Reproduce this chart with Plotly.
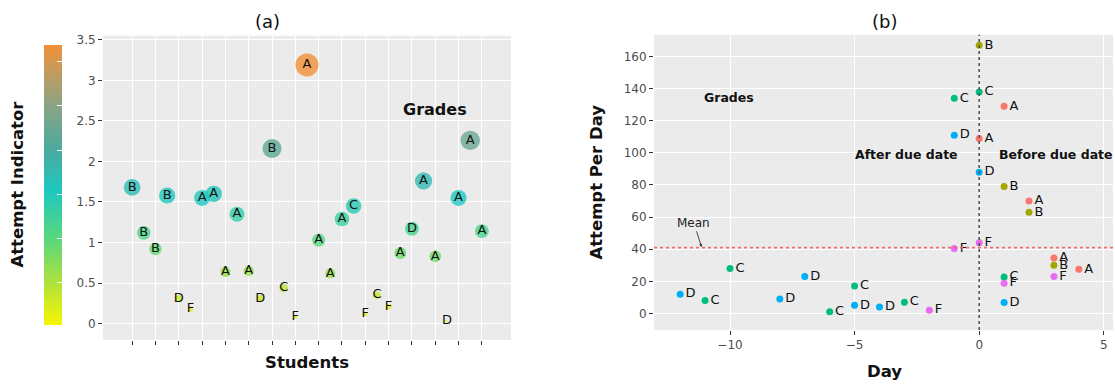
import numpy as np
import plotly.graph_objects as go

W, H = 1115, 385

# ---- Panel (a): attempt indicator per student ----
student_pos = list(range(1, 32))
attempt_indicator = [1.68, 1.12, 0.92, 1.58, 0.31, 0.18, 1.55, 1.60, 0.64, 1.35,
                     0.65, 0.31, 2.16, 0.44, 0.08, 3.19, 1.03, 0.62, 1.29, 1.45,
                     0.12, 0.35, 0.21, 0.87, 1.17, 1.76, 0.83, 0.03, 1.55, 2.26,
                     1.14]
student_grade = ["B", "B", "B", "B", "D", "F", "A", "A", "A", "A",
                 "A", "D", "B", "C", "F", "A", "A", "A", "A", "C",
                 "F", "C", "F", "A", "D", "A", "A", "D", "A", "A",
                 "A"]
student_ticks = list(range(1, 32, 2))
indicator_ticks = [0, 0.5, 1, 1.5, 2, 2.5, 3, 3.5]
colorbar_ticks = [0.5, 1, 1.5, 2, 2.5, 3]

# ---- Panel (b): attempts per day relative to the due date ----
days = [0, 0, -1, 1, -1, 0, 0, 1, 2, 2,
        0, -1, 3, 3, 4, 3, 1, 1, 1, -10,
        -12, -11, -7, -8, -5, -6, -5, -4, -3, -2]
attempts_per_day = [167, 138, 134, 129, 111, 109, 88, 79, 70, 63,
                    44, 40.5, 34.5, 30, 27.5, 23, 22.7, 18.8, 6.8, 28,
                    12, 8, 23, 9, 17, 1, 5, 4, 7, 2]
day_grade = ["B", "C", "C", "A", "D", "A", "D", "B", "A", "B",
             "F", "F", "A", "B", "A", "F", "C", "F", "D", "C",
             "D", "C", "D", "D", "C", "C", "D", "D", "C", "F"]
day_ticks = [-10, -5, 0, 5]
attempt_ticks = [0, 20, 40, 60, 80, 100, 120, 140, 160]
mean_attempts = 41

grade_colors = {"A": "#F8766D", "B": "#A3A500", "C": "#00BF7D",
                "D": "#00B0F6", "F": "#E76BF3"}

indicator_scale = [
    [0.00, "#f6f600"],
    [0.15, "#b0e23c"],
    [0.30, "#5cd87a"],
    [0.48, "#1ec8c0"],
    [0.62, "#4aaaa0"],
    [0.78, "#88a484"],
    [0.90, "#c09c60"],
    [1.00, "#f29036"],
]

FONT = "DejaVu Sans"
TICK_FONT = dict(family=FONT, size=12, color="#4d4d4d")


def px_x(x):
    return x / W


def px_y(y):
    return 1 - y / H


fig = go.Figure()

# Bubble diameter grows with the square root of the indicator (area scale)
bubble_size = (12.9 * np.sqrt(np.array(attempt_indicator))).tolist()

fig.add_trace(go.Scatter(
    x=student_pos, y=attempt_indicator, xaxis="x", yaxis="y",
    mode="markers+text", text=student_grade, textposition="middle center",
    textfont=dict(family=FONT, size=13, color="#111111"),
    marker=dict(
        size=bubble_size, color=attempt_indicator, colorscale=indicator_scale,
        cmin=min(attempt_indicator), cmax=max(attempt_indicator),
        opacity=0.8, line=dict(width=0),
        showscale=True,
        colorbar=dict(
            x=px_x(44), xanchor="left", y=px_y(183), yanchor="middle",
            len=282 / H, lenmode="fraction", thickness=18,
            thicknessmode="pixels", outlinewidth=0, xpad=0, ypad=0,
            ticks="inside", tickcolor="white", ticklen=5, tickwidth=1,
            tickvals=colorbar_ticks, showticklabels=False,
        ),
    ),
    hoverinfo="x+y+text", cliponaxis=False,
))

fig.add_trace(go.Scatter(
    x=days, y=attempts_per_day, xaxis="x2", yaxis="y2",
    mode="markers+text", text=day_grade, textposition="middle right",
    textfont=dict(family=FONT, size=13, color="#111111"),
    marker=dict(size=7, color=[grade_colors[g] for g in day_grade]),
    hoverinfo="x+y+text", cliponaxis=False,
))

axis_common = dict(
    showgrid=True, gridcolor="white", gridwidth=1.1, zeroline=False,
    showline=False, ticks="outside", ticklen=4, tickcolor="#333333",
    tickwidth=1, tickfont=TICK_FONT, fixedrange=True,
)

fig.update_layout(
    width=W, height=H,
    margin=dict(l=0, r=0, t=0, b=0),
    paper_bgcolor="white", plot_bgcolor="#EBEBEB",
    showlegend=False,
    font=dict(family=FONT, color="#111111"),
    xaxis=dict(domain=[px_x(103), px_x(511)], range=[-1.5, 33.5],
               tickvals=student_ticks, showticklabels=False, anchor="y",
               **axis_common),
    yaxis=dict(domain=[px_y(339.5), px_y(33)], range=[-0.2, 3.55],
               tickvals=indicator_ticks, anchor="x", **axis_common),
    xaxis2=dict(domain=[px_x(654), px_x(1113)], range=[-13.05, 5.37],
                tickvals=day_ticks, anchor="y2", **axis_common),
    yaxis2=dict(domain=[px_y(329.5), px_y(32)], range=[-10.3, 173.6],
                tickvals=attempt_ticks, anchor="x2", **axis_common),
)

# Reference lines: due date and mean attempts per day
fig.add_shape(type="line", xref="x2", yref="y2 domain", x0=0, x1=0, y0=0, y1=1,
              line=dict(color="#555555", width=1.6, dash="dot"))
fig.add_shape(type="line", xref="x2 domain", yref="y2", x0=0, x1=1,
              y0=mean_attempts, y1=mean_attempts,
              line=dict(color="#F26B6B", width=1.6, dash="dot"))

BOLD = dict(family=FONT, color="#111111")
annotations = [
    dict(text="(a)", x=px_x(267), y=px_y(19), xref="paper", yref="paper",
         font=dict(family=FONT, size=18, color="#111111")),
    dict(text="(b)", x=px_x(884), y=px_y(19), xref="paper", yref="paper",
         font=dict(family=FONT, size=18, color="#111111")),
    dict(text="<b>Students</b>", x=px_x(307), y=px_y(362), xref="paper",
         yref="paper", font=dict(size=16.5, **BOLD)),
    dict(text="<b>Day</b>", x=px_x(884), y=px_y(371), xref="paper",
         yref="paper", font=dict(size=16.5, **BOLD)),
    dict(text="<b>Attempt Indicator</b>", x=px_x(18), y=px_y(183),
         xref="paper", yref="paper", textangle=-90,
         font=dict(size=16.5, **BOLD)),
    dict(text="<b>Attempt Per Day</b>", x=px_x(597), y=px_y(180),
         xref="paper", yref="paper", textangle=-90,
         font=dict(size=16.5, **BOLD)),
    dict(text="<b>Grades</b>", x=27.0, y=2.64, xref="x", yref="y",
         font=dict(size=16, **BOLD)),
    dict(text="<b>Grades</b>", x=-10.06, y=134.4, xref="x2", yref="y2",
         font=dict(size=12.5, **BOLD)),
    dict(text="<b>After due date</b>", x=-2.9, y=99.3, xref="x2", yref="y2",
         font=dict(size=12.5, **BOLD)),
    dict(text="<b>Before due date</b>", x=3.1, y=99.3, xref="x2", yref="y2",
         font=dict(size=12.5, **BOLD)),
    dict(text="Mean", x=-11.14, y=mean_attempts + 0.3, xref="x2", yref="y2",
         ax=-11.45, ay=56.4, axref="x2", ayref="y2",
         showarrow=True, arrowhead=2, arrowsize=0.7, arrowwidth=0.9,
         arrowcolor="#333333", standoff=0,
         font=dict(family=FONT, size=12, color="#222222")),
]
for a in annotations:
    a.setdefault("showarrow", False)
    a.setdefault("xanchor", "center")
    a.setdefault("yanchor", "middle")
fig.update_layout(annotations=annotations)

fig.write_html("out.html")
